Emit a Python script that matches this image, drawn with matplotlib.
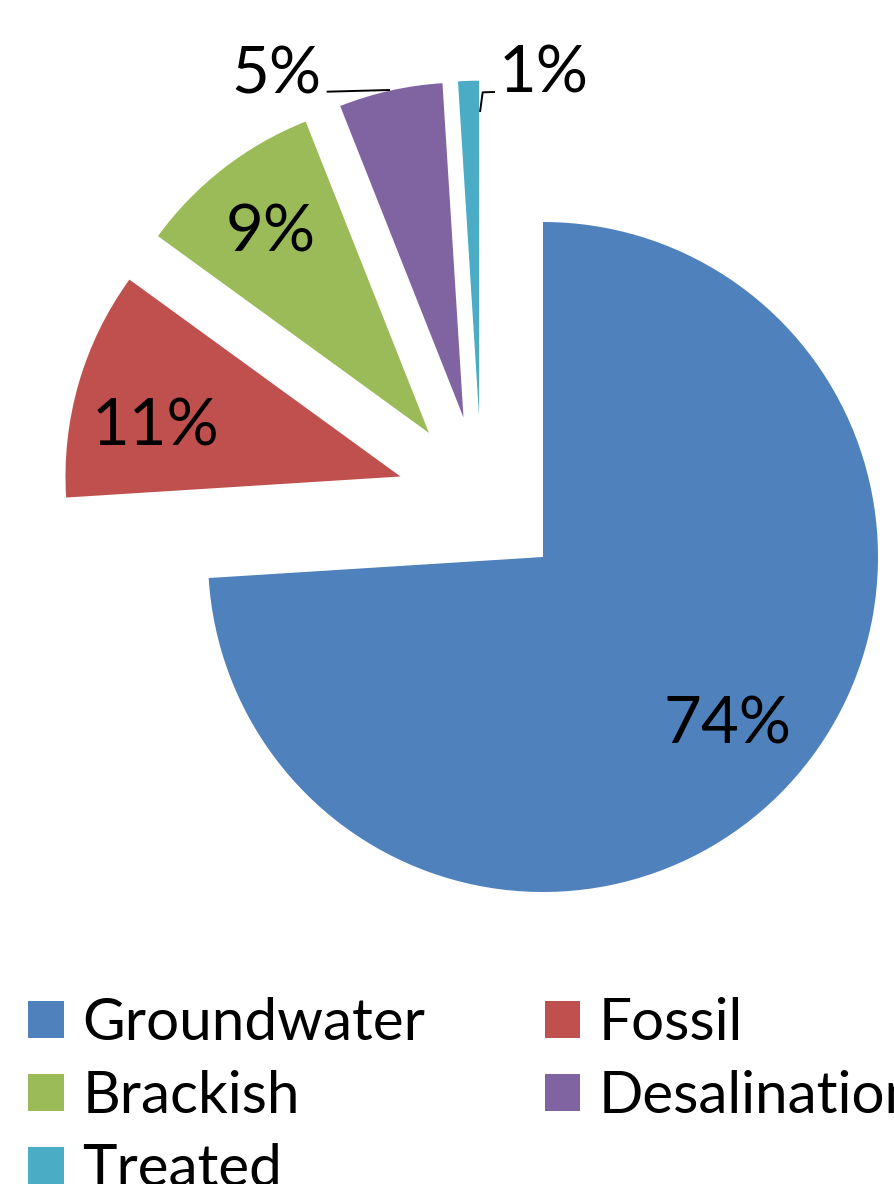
import matplotlib
matplotlib.use('Agg')
import matplotlib.pyplot as plt

plt.rcParams['font.family'] = ['Lato', 'DejaVu Sans']

# ---- data ----
labels = ['Groundwater', 'Fossil', 'Brackish', 'Desalination', 'Treated']
shares = [74, 11, 9, 5, 1]
colors = ['#4F81BD', '#C0504D', '#9BBB59', '#8064A2', '#4BACC6']

# ---- layout (pixels of the 894x1184 canvas, y from top) ----
W, H = 894, 1184
R = 335.0
CX, CY = 543.0, 557.0

fig = plt.figure(figsize=(W / 100, H / 100), dpi=100)
ax = fig.add_axes([0, 0, 1, 1])

wedges, _ = ax.pie(shares, startangle=90, counterclock=False, colors=colors,
                   radius=1.0, wedgeprops=dict(linewidth=0))

# exploded wedge offsets (in radius units)
offsets = [(0.0, 0.0), (-0.4254, 0.2403), (-0.3403, 0.3701),
           (-0.2373, 0.4164), (-0.1910, 0.4218)]
for w, off in zip(wedges, offsets):
    w.set_center(off)

ax.set_xlim(-CX / R, (W - CX) / R)
ax.set_ylim(-(H - CY) / R, CY / R)
ax.set_aspect('auto')
ax.axis('off')

# data labels (baseline positions, pixels)
label_px = [(727, 744), (156, 445), (270.3, 251.7), (276.7, 93.3), (543.3, 92.7)]
for v, (px, py) in zip(shares, label_px):
    ax.text((px - CX) / R, (CY - py) / R, f"{v}%", ha='center', va='baseline',
            fontsize=47, color='black')

# leader lines
def P(px, py):
    return ((px - CX) / R, (CY - py) / R)

l5 = [P(326.7, 91.7), P(390, 90)]
l1 = [P(480, 112), P(482.7, 92.3), P(495, 92)]
for pts in (l5, l1):
    xs, ys = zip(*pts)
    ax.plot(xs, ys, color='black', lw=1.4, solid_capstyle='butt')

# ---- legend (row-major order like the original) ----
order = [0, 2, 4, 1, 3]
FS = 42
FPX = FS * 100 / 72.0


def make_legend(ls, cs, anchor):
    return fig.legend([wedges[i] for i in order], [labels[i] for i in order],
                      ncol=2, loc='upper left', bbox_to_anchor=anchor,
                      bbox_transform=fig.transFigure, frameon=False,
                      fontsize=FS, handlelength=0.617, handleheight=0.6,
                      handletextpad=0.31, columnspacing=cs, labelspacing=ls,
                      borderpad=0, borderaxespad=0)


ls, cs = 0.2, 1.5
anchor = (28.5 / W, 1 - 985 / H)
leg = make_legend(ls, cs, anchor)
for _ in range(3):
    fig.canvas.draw()
    r = fig.canvas.get_renderer()
    hb = [h.get_window_extent(r) for h in leg.legend_handles]
    pitch = hb[0].y1 - hb[1].y1
    colw = hb[3].x0 - hb[0].x0
    ls += (73.0 - pitch) / FPX
    cs += (516.0 - colw) / FPX
    dx = 28.5 - hb[0].x0
    dy = (H - 1001.0) - hb[0].y1
    anchor = (anchor[0] + dx / W, anchor[1] + dy / H)
    leg.remove()
    leg = make_legend(ls, cs, anchor)

fig.savefig('out.png', dpi=100)
